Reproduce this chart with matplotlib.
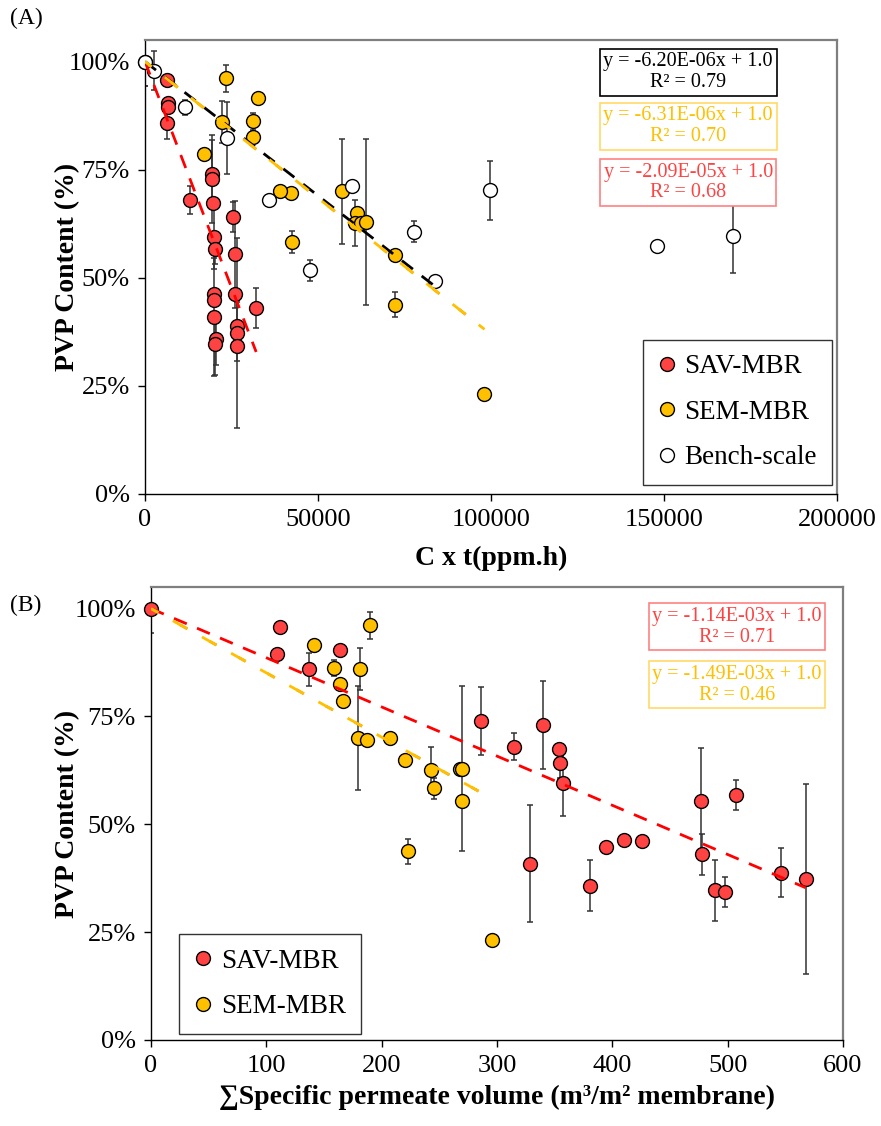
import matplotlib
matplotlib.use("Agg")
import matplotlib.pyplot as plt
import numpy as np

plt.rcParams['font.family'] = ['Liberation Serif', 'DejaVu Serif']

# ---------------- data ----------------
# SAV-MBR
sav_pvp = [100, 95.8, 90.5, 89.5, 85.9, 74.0, 72.9, 68.0, 67.4, 64.1, 59.5, 56.7, 55.4,
           46.3, 46.2, 44.8, 43.0, 40.9, 38.8, 37.3, 35.8, 34.7, 34.3]
sav_err = [5.6, 0, 0, 0, 3.8, 7.9, 10.2, 3.2, 0, 3.4, 7.5, 3.5, 12.3,
           0, 0, 0, 4.7, 13.6, 5.6, 22.0, 5.9, 7.1, 3.5]
sav_ct = [0, 6440, 6540, 6540, 6440, 19340, 19340, 13080, 19620, 25490, 19820, 20300, 26070,
          19900, 25880, 19900, 32130, 19800, 26460, 26460, 20490, 20120, 26460]
sav_vol = [0, 111.9, 164.1, 109.6, 137.1, 286.1, 340.0, 314.5, 353.9, 354.2, 357.4, 507.5, 477.1,
           409.9, 425.8, 394.8, 477.7, 329.0, 546.1, 567.5, 380.6, 489.0, 498.0]

# SEM-MBR
sem_pvp = [91.6, 96.1, 86.2, 82.5, 78.6, 86.0, 70.0, 69.5, 70.0, 64.9, 62.6, 58.3, 62.7, 62.9, 55.3, 43.8, 23.2]
sem_err = [0, 3.1, 1.9, 0, 0, 4.9, 12.1, 0, 0, 0, 5.3, 2.5, 0, 19.1, 0, 2.9, 0]
sem_ct = [32800, 23470, 31070, 31070, 16930, 22220, 57000, 42140, 39160, 61380, 60610, 42520,
          62340, 63980, 72150, 72150, 98120]
sem_vol = [141.2, 189.9, 158.6, 163.5, 166.4, 180.9, 179.7, 187.2, 207.5, 220.0, 242.9, 245.5,
           268.1, 269.6, 269.6, 222.9, 295.7]

# Bench-scale
bench_ct = [0, 2700, 11700, 23800, 35800, 47800, 59700, 77800, 83800, 99800, 147900, 169800]
bench_pvp = [100, 97.9, 89.4, 82.3, 68.1, 51.7, 71.3, 60.7, 49.2, 70.2, 57.4, 59.6]
bench_err = [5.6, 4.5, 1.8, 8.3, 0, 2.5, 0, 2.5, 0, 6.9, 0, 8.5]
bench_fit_end = 83800

# trend-line slopes (fraction per unit x) and R²
fitA_slopes = {'bench': -6.20e-06, 'sem': -6.31e-06, 'sav': -2.09e-05}
fitA_r2 = {'bench': 0.79, 'sem': 0.70, 'sav': 0.68}
fitB_slopes = {'sav': -1.14e-03, 'sem': -1.49e-03}
fitB_r2 = {'sav': 0.71, 'sem': 0.46}

xticksA = [0, 50000, 100000, 150000, 200000]
xticksB = [0, 100, 200, 300, 400, 500, 600]
yticks = [0, 25, 50, 75, 100]

# ---------------- style ----------------
RED = '#FF4343'
YEL = '#FFC000'
ERRC = '#333333'
MS = 10
TICKFS = 19
LABFS = 20

fig = plt.figure(figsize=(8.81, 11.26), dpi=100)
W, H = 881, 1126
axA = fig.add_axes([145 / W, 1 - 494 / H, 692 / W, 454 / H])
axB = fig.add_axes([151 / W, 1 - 1040 / H, 692 / W, 453 / H])


def series(ax, x, y, e, fc, label):
    e = np.array(e, dtype=float)
    ax.errorbar(x, y, yerr=np.where(e > 0, e, np.nan), fmt='none', ecolor=ERRC,
                elinewidth=1.1, capsize=2.2, capthick=1.1, zorder=2)
    ax.plot(x, y, 'o', ms=MS, mfc=fc, mec='black', mew=1.0, ls='none',
            label=label, zorder=3, clip_on=False)


def trend(ax, slope, xend, color, zorder=5):
    xs = np.array([0, xend])
    ys = (1 + slope * xs) * 100
    if color == YEL:
        ax.plot(xs, ys, color='#E08A1E', lw=2, ls=(0, (3, 9)), zorder=zorder)
        ax.plot(xs, ys, color=YEL, lw=2, ls=(3, (6, 6)), zorder=zorder)
    else:
        ax.plot(xs, ys, color=color, lw=2, ls=(0, (5, 4)), zorder=zorder)


def style(ax, xticks):
    ax.set_ylim(0, 105)
    ax.set_yticks(yticks)
    ax.set_yticklabels([f'{v}%' for v in yticks])
    ax.set_xticks(xticks)
    ax.set_xticklabels([str(v) for v in xticks])
    ax.tick_params(direction='out', length=5, width=1, labelsize=TICKFS, pad=6)
    for s in ['left', 'bottom']:
        ax.spines[s].set_color('black')
        ax.spines[s].set_linewidth(1.0)
    for s in ['top', 'right']:
        ax.spines[s].set_color('#7F7F7F')
        ax.spines[s].set_linewidth(1.6)


def box(ax, x, y, text, tc, ec):
    ax.text(x, y, text, transform=ax.transAxes, ha='center', va='center',
            fontsize=14.5, color=tc, linespacing=1.12, zorder=6,
            bbox=dict(boxstyle='square,pad=0.18', fc='white', ec=ec, lw=1.2))


def legend(ax, loc, anchor):
    leg = ax.legend(loc=loc, bbox_to_anchor=anchor, borderaxespad=0,
                    fontsize=19.5, frameon=True, fancybox=False, edgecolor='black',
                    handlelength=0.7, handletextpad=0.3, labelspacing=0.75, borderpad=0.55)
    leg.get_frame().set_linewidth(1.0)
    leg.set_zorder(7)
    return leg


# ---------------- Panel A ----------------
series(axA, sav_ct, sav_pvp, sav_err, RED, 'SAV-MBR')
series(axA, sem_ct, sem_pvp, sem_err, YEL, 'SEM-MBR')
series(axA, bench_ct, bench_pvp, bench_err, 'white', 'Bench-scale')
trend(axA, fitA_slopes['sav'], max(sav_ct), '#FF0000')
trend(axA, fitA_slopes['bench'], bench_fit_end, 'black')
trend(axA, fitA_slopes['sem'], max(sem_ct), YEL)
axA.set_xlim(0, 200000)
style(axA, xticksA)
axA.set_xlabel('C x t(ppm.h)', fontsize=LABFS, fontweight='bold')
axA.set_ylabel('PVP Content (%)', fontsize=LABFS, fontweight='bold')
axA.xaxis.set_label_coords(0.5, -0.115)
axA.yaxis.set_label_coords(-0.094, 0.5)

box(axA, 0.785, 0.929, f"y = {fitA_slopes['bench']:.2E}x + 1.0\nR² = {fitA_r2['bench']:.2f}", 'black', 'black')
box(axA, 0.785, 0.810, f"y = {fitA_slopes['sem']:.2E}x + 1.0\nR² = {fitA_r2['sem']:.2f}", YEL, '#FFD966')
box(axA, 0.785, 0.686, f"y = {fitA_slopes['sav']:.2E}x + 1.0\nR² = {fitA_r2['sav']:.2f}", RED, '#FF8080')

legend(axA, 'lower right', (0.9928, 0.0198))

# ---------------- Panel B ----------------
series(axB, sav_vol, sav_pvp, sav_err, RED, 'SAV-MBR')
series(axB, sem_vol, sem_pvp, sem_err, YEL, 'SEM-MBR')
trend(axB, fitB_slopes['sav'], max(sav_vol), '#FF0000')
trend(axB, fitB_slopes['sem'], max(sem_vol), YEL)
axB.set_xlim(0, 600)
style(axB, xticksB)
axB.set_xlabel('∑Specific permeate volume (m³/m² membrane)', fontsize=LABFS, fontweight='bold')
axB.set_ylabel('PVP Content (%)', fontsize=LABFS, fontweight='bold')
axB.xaxis.set_label_coords(0.5, -0.10)
axB.yaxis.set_label_coords(-0.1026, 0.5)

box(axB, 0.847, 0.912, f"y = {fitB_slopes['sav']:.2E}x + 1.0\nR² = {fitB_r2['sav']:.2f}", RED, '#FF8080')
box(axB, 0.847, 0.784, f"y = {fitB_slopes['sem']:.2E}x + 1.0\nR² = {fitB_r2['sem']:.2f}", YEL, '#FFD966')

legend(axB, 'lower left', ((179 - 151) / 692, (1040 - 1034) / 453))

fig.text(10 / W, 1 - 18 / H, '(A)', fontsize=17, va='center', ha='left')
fig.text(10 / W, 1 - 605 / H, '(B)', fontsize=17, va='center', ha='left')

fig.savefig('out.png', dpi=100)
